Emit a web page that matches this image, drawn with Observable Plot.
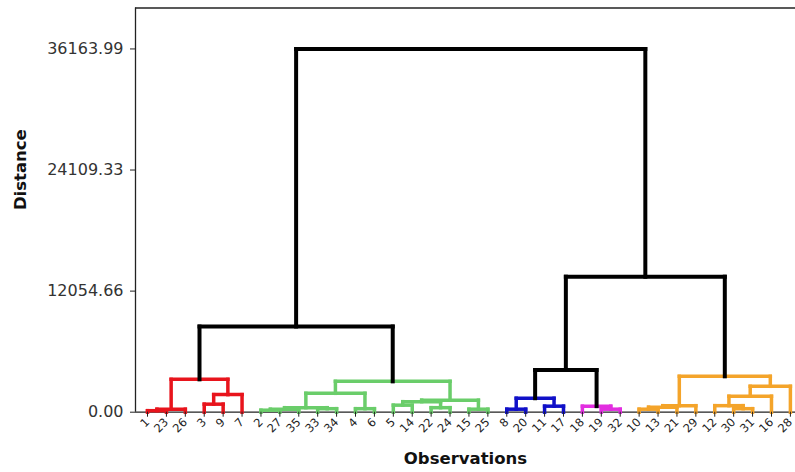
<!DOCTYPE html>
<html>
<head>
<meta charset="utf-8">
<script src="https://cdn.jsdelivr.net/npm/d3@7"></script>
<script src="https://cdn.jsdelivr.net/npm/@observablehq/plot@0.6"></script>
<style>
  html, body { margin: 0; padding: 0; background: #fff; }
  #chart { width: 795px; height: 472px; }
</style>
</head>
<body>
<div id="chart"></div>
<script>
// Leaf order (observations) as they appear along the x axis
const leaves = ["1","23","26","3","9","7","2","27","35","33","34","4","6","5","14","22","24","15","25",
                "8","20","11","17","18","19","32","10","13","21","29","12","30","31","16","28"];
// Cluster class of each leaf
const leafGroup = ["C1","C1","C1","C1","C1","C1",
  "C2","C2","C2","C2","C2","C2","C2","C2","C2","C2","C2","C2","C2",
  "C3","C3","C3","C3","C4","C4","C4",
  "C5","C5","C5","C5","C5","C5","C5","C5","C5"];
const groupNames = ["C1","C2","C3","C4","C5","Link"];
const groupColors = ["#e8141c","#6acd6a","#1010c8","#e22ee0","#f4a42a","#000000"];

// Merges (agglomeration): left child, right child, distance. Nodes are "n1", "n2", ...
const mergeLeft  = ["1","n1","3","n3","n2","2","n6","33","n7","4","n9","5","22","n12","15","n14","n11","n5",
                    "8","11","n19","19","18","n21","10","n25","n26","30","12","n29","n30","n27","n24","n18"];
const mergeRight = ["23","26","9","7","n4","27","35","34","n8","6","n10","14","24","n13","25","n15","n16","n17",
                    "20","17","n20","32","n22","n23","13","21","29","31","n28","16","28","n31","n32","n33"];
const mergeHeight = [150,300,800,1750,3270,200,300,350,450,350,1880,700,450,1050,300,1200,3070,8530,
                     300,600,1390,300,600,4200,300,500,650,350,650,1590,2580,3570,13490,36164];

const yTicks = [0, 12054.66, 24109.33, 36163.99];

// Build segment table from the merges
const pos = new Map();
leaves.forEach((l, i) => pos.set(l, {x: i, h: 0, g: leafGroup[i]}));
const segs = [];
mergeLeft.forEach((L, k) => {
  const a = pos.get(L), b = pos.get(mergeRight[k]), h = mergeHeight[k];
  const g = a.g === b.g ? a.g : "Link";
  segs.push({x1: a.x, y1: a.h, x2: a.x, y2: h, g});
  segs.push({x1: b.x, y1: b.h, x2: b.x, y2: h, g});
  segs.push({x1: a.x, y1: h, x2: b.x, y2: h, g});
  pos.set("n" + (k + 1), {x: (a.x + b.x) / 2, h, g});
});

const xDomain = [-0.635, 34.27];
const yDomain = [0, 40240];

const chart = Plot.plot({
  width: 795,
  height: 472,
  marginLeft: 135,
  marginRight: 0,
  marginTop: 7.5,
  marginBottom: 60.3,
  style: {fontFamily: "DejaVu Sans", background: "#fff"},
  x: {domain: xDomain},
  y: {domain: yDomain},
  color: {type: "ordinal", domain: groupNames, range: groupColors},
  marks: [
    Plot.ruleX([xDomain[0]], {stroke: "#222", strokeWidth: 1.3}),
    Plot.ruleY([yDomain[1]], {stroke: "#222", strokeWidth: 1.3}),
    Plot.ruleY([0], {stroke: "#222", strokeWidth: 1.3}),
    Plot.link(segs.filter(d => d.g !== "Link"), {x1: "x1", y1: "y1", x2: "x2", y2: "y2", stroke: "g",
      strokeWidth: 3.5, strokeLinecap: "square"}),
    Plot.link(segs.filter(d => d.g === "Link"), {x1: "x1", y1: "y1", x2: "x2", y2: "y2", stroke: "g",
      strokeWidth: 4, strokeLinecap: "square"}),
    Plot.axisY(yTicks, {tickFormat: d => d.toFixed(2), tickSize: 5, tickPadding: 7, fontSize: 16,
      color: "#333", stroke: "#222", label: null}),
    Plot.axisX(d3.range(leaves.length), {tickFormat: i => leaves[i], tickRotate: -45, tickSize: 5,
      tickPadding: 3, fontSize: 11.5, color: "#222", label: null}),
    Plot.text(["Distance"], {frameAnchor: "left", dx: -115, rotate: -90, fontSize: 16.5,
      fontWeight: "bold", fill: "#111"}),
    Plot.text(["Observations"], {frameAnchor: "bottom", dy: 52, fontSize: 16.5,
      fontWeight: "bold", fill: "#111"})
  ]
});
document.getElementById("chart").append(chart);
</script>
</body>
</html>
